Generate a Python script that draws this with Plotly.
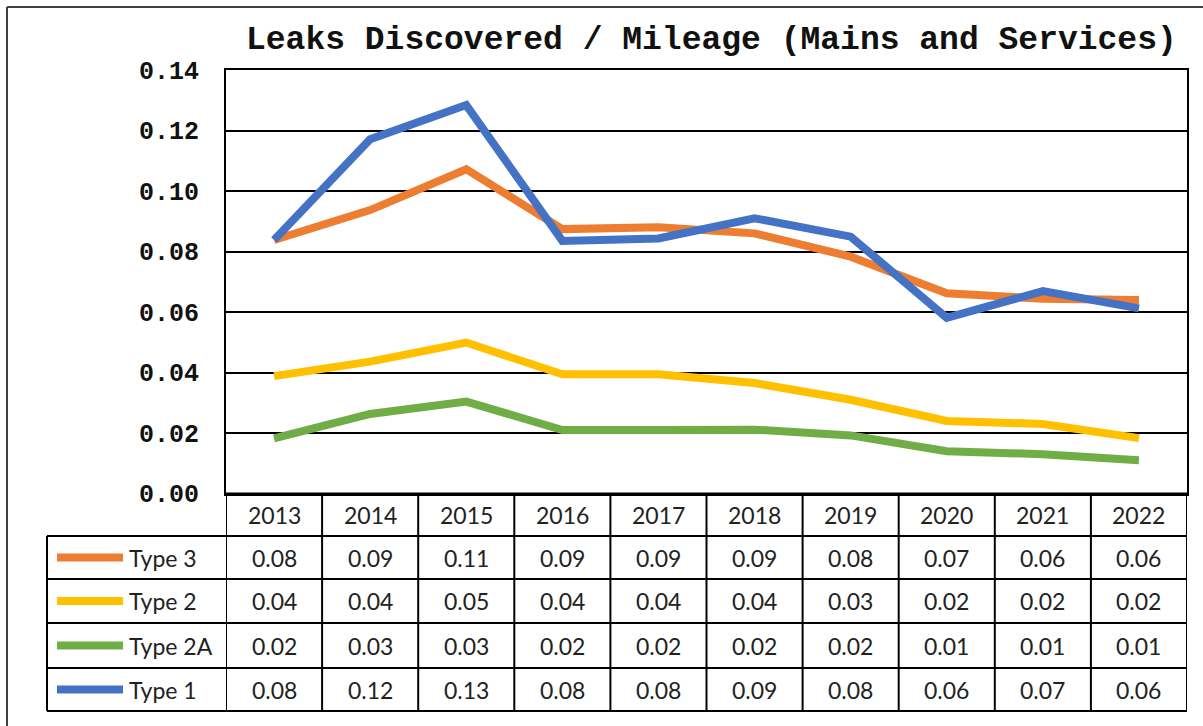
import plotly.graph_objects as go

# ---- data ----
years = ["2013", "2014", "2015", "2016", "2017", "2018", "2019", "2020", "2021", "2022"]
type3 = [0.0838, 0.0937, 0.1072, 0.0874, 0.0880, 0.0860, 0.0783, 0.0662, 0.0644, 0.0640]
type2 = [0.0388, 0.0436, 0.0499, 0.0394, 0.0394, 0.0365, 0.0310, 0.0240, 0.0230, 0.0183]
type2a = [0.0182, 0.0263, 0.0304, 0.0210, 0.0210, 0.0211, 0.0192, 0.0140, 0.0130, 0.0110]
type1 = [0.0838, 0.1171, 0.1284, 0.0835, 0.0843, 0.0910, 0.0849, 0.0581, 0.0669, 0.0612]
series_names = ["Type 3", "Type 2", "Type 2A", "Type 1"]
series_vals = [type3, type2, type2a, type1]
series_colors = ["#ED7D31", "#FFC000", "#70AD47", "#4472C4"]
title_text = "Leaks Discovered / Mileage (Mains and Services)"

W, H = 1203, 726
def px(x):
    return x / W
def py(y):
    return 1 - y / H

PL, PR, PT, PB = 226, 1187, 70, 493.5
row_edges = [493.5, 536, 579, 623, 668, 711]
TL = 47

fig = go.Figure()
for name, vals, col in zip(series_names, series_vals, series_colors):
    fig.add_trace(go.Scatter(x=years, y=vals, mode="lines", name=name,
                             line=dict(color=col, width=8), showlegend=False))

shapes = []
annotations = []
lc = "black"
lw = 2
# vertical column lines of table
for i in range(len(years) + 1):
    shapes.append(dict(type="line", xref="x", yref="paper", x0=i - 0.5, x1=i - 0.5,
                       y0=py(row_edges[0]), y1=py(row_edges[-1]), line=dict(color=lc, width=lw)))
# left column line
shapes.append(dict(type="line", xref="paper", yref="paper", x0=px(TL), x1=px(TL),
                   y0=py(row_edges[1]), y1=py(row_edges[-1]), line=dict(color=lc, width=lw)))
# horizontal lines
for k, ye in enumerate(row_edges):
    x0 = PL if k == 0 else TL
    shapes.append(dict(type="line", xref="paper", yref="paper", x0=px(x0), x1=px(PR),
                       y0=py(ye), y1=py(ye), line=dict(color=lc, width=lw)))
# outer frame
shapes.append(dict(type="line", xref="paper", yref="paper", x0=px(7), x1=px(7),
                   y0=py(7), y1=0, line=dict(color="#404040", width=2)))
shapes.append(dict(type="line", xref="paper", yref="paper", x0=px(7), x1=1,
                   y0=py(7), y1=py(7), line=dict(color="#404040", width=2)))

tfont = dict(family="Lato, Open Sans, sans-serif", size=23, color="#222222")
# header row
hc = (row_edges[0] + row_edges[1]) / 2
for i, yr in enumerate(years):
    annotations.append(dict(xref="x", yref="paper", x=i, y=py(hc), text=yr,
                            showarrow=False, font=tfont, xanchor="center", yanchor="middle"))
# data rows
for r, (name, vals, col) in enumerate(zip(series_names, series_vals, series_colors)):
    yc = (row_edges[r + 1] + row_edges[r + 2]) / 2
    for i, v in enumerate(vals):
        annotations.append(dict(xref="x", yref="paper", x=i, y=py(yc), text=f"{v:.2f}",
                                showarrow=False, font=tfont, xanchor="center", yanchor="middle"))
    annotations.append(dict(xref="paper", yref="paper", x=px(127), y=py(yc), text=name,
                            showarrow=False, font=tfont, xanchor="left", yanchor="middle"))
    shapes.append(dict(type="line", xref="paper", yref="paper", x0=px(57), x1=px(123),
                       y0=py(yc), y1=py(yc), line=dict(color=col, width=8)))

annotations.append(dict(xref="paper", yref="paper", x=px(711), y=py(41), text=title_text,
                        showarrow=False, xanchor="center", yanchor="middle",
                        font=dict(family="Liberation Mono, Courier New, monospace", size=33,
                                  color="#111111", weight="bold")))

fig.update_layout(
    width=W, height=H,
    margin=dict(l=0, r=0, t=0, b=0, autoexpand=False),
    paper_bgcolor="white", plot_bgcolor="white",
    shapes=shapes, annotations=annotations,
    xaxis=dict(type="category", domain=[px(PL), px(PR)], range=[-0.5, len(years) - 0.5],
               showticklabels=False, showgrid=False, zeroline=False, ticks="",
               automargin=False,
               showline=True, linecolor="black", linewidth=2, mirror=True),
    yaxis=dict(domain=[py(PB), py(PT)], range=[0, 0.14], dtick=0.02, tickformat=".2f",
               showgrid=True, gridcolor="black", gridwidth=2, zeroline=False,
               showline=True, linecolor="black", linewidth=2, mirror=True,
               ticks="", ticklabelstandoff=20, automargin=False,
               tickfont=dict(family="Liberation Mono, Courier New, monospace", size=25,
                             color="#111111", weight="bold")),
)

fig.write_html("out.html", config={"displayModeBar": False},
               post_script="document.body.style.margin='0';document.body.style.overflow='hidden';")
